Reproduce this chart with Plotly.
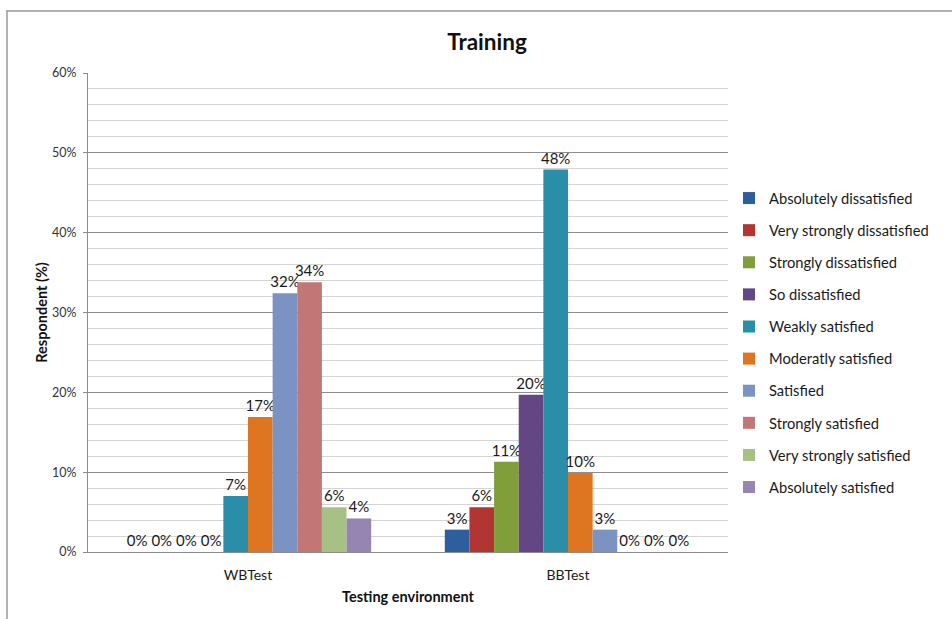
import plotly.graph_objects as go

# Testing environments (x categories)
environments = ["WBTest", "BBTest"]

# Satisfaction levels, in legend order
levels = [
    "Absolutely dissatisfied",
    "Very strongly dissatisfied",
    "Strongly dissatisfied",
    "So dissatisfied",
    "Weakly satisfied",
    "Moderatly satisfied",
    "Satisfied",
    "Strongly satisfied",
    "Very strongly satisfied",
    "Absolutely satisfied",
]

# Share of respondents (%) per level, one list per environment
wbtest_pct = [0.0, 0.0, 0.0, 0.0, 7.0, 16.9, 32.4, 33.8, 5.6, 4.2]
bbtest_pct = [2.8, 5.6, 11.3, 19.7, 47.9, 9.9, 2.8, 0.0, 0.0, 0.0]

colors = [
    "#2d5e9e", "#b23531", "#809f3a", "#624784", "#2a8ea8",
    "#de7520", "#7b93c3", "#c27777", "#a7c184", "#9585b0",
]

FONT = "Lato, 'Open Sans', sans-serif"

fig = go.Figure()
for i, name in enumerate(levels):
    vals = [wbtest_pct[i] / 100, bbtest_pct[i] / 100]
    fig.add_trace(go.Bar(
        x=environments,
        y=vals,
        name=name,
        legendgroup=name,
        marker=dict(color=colors[i], line=dict(width=0)),
        text=[f"{round(v * 100):.0f}%" for v in vals],
        textposition="outside",
        textfont=dict(size=15, color="#1a1a1a", family=FONT),
        constraintext="none",
        cliponaxis=False,
    ))

W, H = 952, 619
L, R, T, B = 88, 728, 73, 552  # plot-area edges in pixels


def px_x(px):
    return (px - L) / (R - L)


def px_y(py):
    return (B - py) / (B - T)


# Chart-area frame: top and left edges only
frame = dict(type="line", xref="paper", yref="paper",
             line=dict(color="#9a9a9a", width=1.5))
shapes = [
    dict(frame, x0=px_x(6), x1=px_x(W + 5), y0=px_y(11), y1=px_y(11)),
    dict(frame, x0=px_x(7), x1=px_x(7), y0=px_y(11), y1=px_y(H + 5)),
]

fig.update_layout(
    width=W, height=H,
    margin=dict(l=L, r=W - R, t=T, b=H - B),
    paper_bgcolor="white", plot_bgcolor="white",
    font=dict(family=FONT, color="#1a1a1a"),
    title=dict(text="<b>Training</b>", x=px_x(487), xref="paper", xanchor="center",
               y=1 - 42 / H, yref="container", yanchor="middle",
               font=dict(size=22.5, color="#111111", family=FONT)),
    barmode="group", bargap=0.23, bargroupgap=0.0,
    showlegend=True,
    legend=dict(x=px_x(729), xanchor="left", y=px_y(182), yanchor="top",
                font=dict(size=14.7, color="#1a1a1a", family=FONT),
                tracegroupgap=10, traceorder="grouped",
                itemwidth=30, bgcolor="rgba(0,0,0,0)"),
    xaxis=dict(
        showline=True, linecolor="#8c8c8c", linewidth=1,
        ticks="", tickfont=dict(size=14, color="#1a1a1a"),
        ticklabelstandoff=10,
        title=dict(text="<b>Testing environment</b>", font=dict(size=14.5, color="#111111"),
                   standoff=10),
        showgrid=False, zeroline=False,
    ),
    yaxis=dict(
        range=[0, 0.6], dtick=0.1, tickformat=".0%",
        showline=True, linecolor="#8c8c8c", linewidth=1,
        ticks="outside", ticklen=4, tickcolor="#8c8c8c",
        tickfont=dict(size=12.5, color="#333333"),
        ticklabelstandoff=4,
        showgrid=True, gridcolor="#8e8e8e", gridwidth=1,
        zeroline=False,
        minor=dict(dtick=0.02, showgrid=True, gridcolor="#d4d4d4", gridwidth=1),
        title=dict(text="<b>Respondent (%)</b>", font=dict(size=14.5, color="#111111"),
                   standoff=0),
    ),
    shapes=shapes,
)

fig.write_html("out.html")
